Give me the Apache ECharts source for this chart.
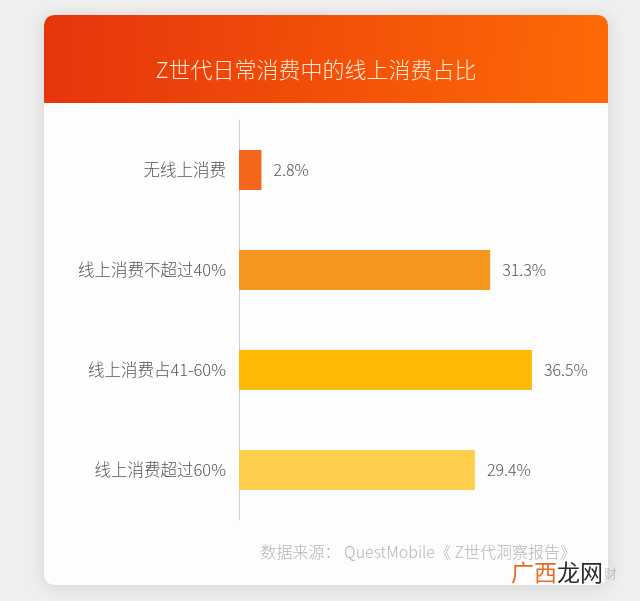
<!DOCTYPE html>
<html><head><meta charset="utf-8">
<script src="https://cdn.jsdelivr.net/npm/echarts@6/dist/echarts.min.js"></script>
<style>html,body{margin:0;padding:0;background:#efefef;}#c{width:640px;height:601px;}</style>
</head><body><div id="c"></div>
<script>
const categories = ['无线上消费', '线上消费不超过40%', '线上消费占41-60%', '线上消费超过60%'];
const values = [2.8, 31.3, 36.5, 29.4];
const barColors = ['#f4661b', '#f7961f', '#fcb906', '#fdcd4b'];
const titleText = 'Z世代日常消费中的线上消费占比';
const sourceText = '数据来源： QuestMobile《 Z世代洞察报告》';

const chart = echarts.init(document.getElementById('c'));
const font = '"Noto Sans CJK SC", "Noto Sans", sans-serif';
chart.setOption({
  backgroundColor: '#efefef',
  textStyle: {fontFamily: font},
  graphic: [
    {type: 'rect', z: 0, shape: {x: 44, y: 15, width: 564, height: 570, r: 10},
     style: {fill: '#fdfdfd', shadowBlur: 18, shadowColor: 'rgba(0,0,0,0.12)', shadowOffsetY: 2}},
    {type: 'rect', z: 1, shape: {x: 44, y: 15, width: 564, height: 88, r: [10, 10, 0, 0]},
     style: {fill: new echarts.graphic.LinearGradient(0, 0, 1, 0.3, [
       {offset: 0, color: '#e6340c'}, {offset: 1, color: '#fe6a06'}])}},
    {type: 'text', z: 2, style: {x: 316, y: 70, text: titleText, fill: '#ffe8d2', font: '300 22px ' + font, textAlign: 'center', textVerticalAlign: 'middle'}},
    {type: 'text', z: 2, style: {x: 576, y: 552, text: sourceText, fill: '#b4b4b4', font: '300 16px ' + font, textAlign: 'right', textVerticalAlign: 'middle'}},
    {type: 'text', z: 3, style: {x: 511, y: 572, text: '{a|广西}{b|龙网}', textVerticalAlign: 'middle', rich: {
      a: {fill: '#ea6a22', font: '23px ' + font},
      b: {fill: '#2a2a2a', font: '23px ' + font}}}},
    {type: 'text', z: 3, style: {x: 604, y: 573, text: '财', fill: 'rgba(140,140,140,0.45)', font: '13px ' + font, textVerticalAlign: 'middle'}}
  ],
  grid: {left: 239, right: 80, top: 120, bottom: 81},
  xAxis: {type: 'value', min: 0, max: 40, show: false},
  yAxis: {type: 'category', data: categories, inverse: true,
    axisLine: {show: true, lineStyle: {color: '#cfcfcf', width: 1}},
    axisTick: {show: false},
    axisLabel: {color: '#555', fontSize: 16.5, fontWeight: 300, margin: 13, fontFamily: font}},
  series: [{type: 'bar', barWidth: 40, z: 5,
    data: values.map((v, i) => ({value: v, itemStyle: {color: barColors[i]}})),
    label: {show: true, position: 'right', distance: 12, color: '#555', fontSize: 16, fontWeight: 300, fontFamily: font,
      formatter: p => p.value.toFixed(1) + '%'}}]
});
</script></body></html>
